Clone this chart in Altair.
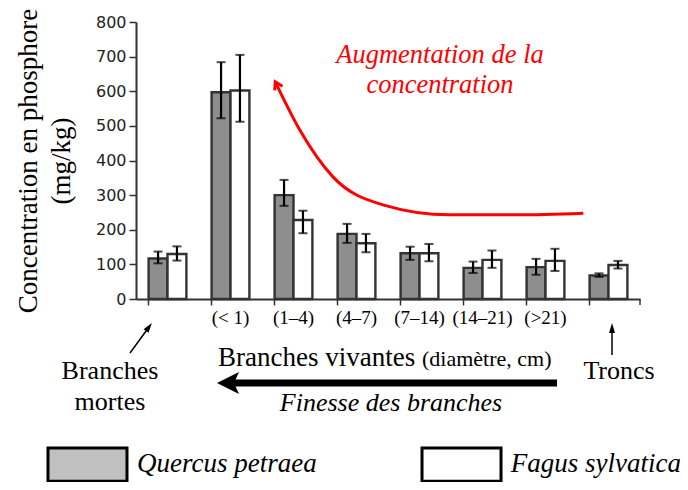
import altair as alt
import pandas as pd

# ---------------- data ----------------
categories = ["Branches mortes", "(< 1)", "(1–4)", "(4–7)", "(7–14)", "(14–21)", "(>21)", "Troncs"]
species = ["Quercus petraea", "Fagus sylvatica"]
quercus_mean = [117, 597, 300, 188, 132, 90, 92, 68]
quercus_low = [103, 522, 269, 162, 113, 75, 70, 64]
quercus_high = [137, 684, 344, 217, 151, 108, 116, 74]
fagus_mean = [130, 602, 228, 161, 132, 113, 110, 98]
fagus_low = [111, 512, 190, 135, 109, 90, 81, 88]
fagus_high = [152, 705, 255, 188, 159, 140, 145, 110]
y_ticks = [0, 100, 200, 300, 400, 500, 600, 700, 800]

rows = []
for i, c in enumerate(categories):
    rows.append({"cat": c, "sp": species[0], "mean": quercus_mean[i], "lo": quercus_low[i], "hi": quercus_high[i]})
    rows.append({"cat": c, "sp": species[1], "mean": fagus_mean[i], "lo": fagus_low[i], "hi": fagus_high[i]})
df = pd.DataFrame(rows)

# ---------------- annotation geometry (category units, mg/kg) ----------------
curve_u = [2.21, 2.60, 3.13, 3.92, 4.98, 6.05, 7.10]
curve_v = [627, 488, 352, 272, 243, 243, 248]

W, H = 504, 277
serif = "Liberation Serif"

xband = alt.Scale(domain=categories, paddingInner=0.4, paddingOuter=0.2)
yscale = alt.Scale(domain=[0, 800], nice=False)
xoff = alt.XOffset("sp:N", sort=species, scale=alt.Scale(domain=species, paddingInner=0, paddingOuter=0))

yaxis = alt.Axis(values=y_ticks, grid=False, title=["Concentration en phosphore", "(mg/kg)"],
                 titleFont=serif, titleFontSize=27, titleFontWeight="normal", titleColor="black",
                 titlePadding=20, titleLineHeight=33,
                 labelFont="DejaVu Sans", labelFontSize=16, labelColor="#222222", labelPadding=3,
                 tickSize=7, tickWidth=1.5, tickColor="#333", domainColor="#333", domainWidth=2)

bars = alt.Chart(df).mark_bar(stroke="#333333", strokeWidth=2.4).encode(
    x=alt.X("cat:N", sort=categories, scale=xband, title=None,
            axis=alt.Axis(bandPosition=0, labelAngle=0,
                          labelExpr="datum.value == 'Branches mortes' || datum.value == 'Troncs' ? '' : datum.value",
                          labelFont=serif, labelFontSize=19, labelColor="black", labelPadding=3,
                          tickSize=6, tickWidth=1.5, tickColor="#333", domainColor="#333", domainWidth=2,
                          grid=False)),
    xOffset=xoff,
    y=alt.Y("mean:Q", scale=yscale, axis=yaxis),
    fill=alt.Fill("sp:N", scale=alt.Scale(domain=species, range=["#8e8e8e", "#ffffff"]), legend=None),
)

xb_noaxis = alt.X("cat:N", sort=categories, scale=xband, axis=None)

err = alt.Chart(df).mark_rule(color="black", strokeWidth=2.2).encode(
    x=xb_noaxis, xOffset=xoff,
    y=alt.Y("lo:Q", scale=yscale, axis=yaxis), y2="hi:Q")
cap_hi = alt.Chart(df).mark_tick(color="black", thickness=2, size=9).encode(
    x=xb_noaxis, xOffset=xoff, y=alt.Y("hi:Q", scale=yscale, axis=yaxis))
cap_lo = alt.Chart(df).mark_tick(color="black", thickness=2, size=9).encode(
    x=xb_noaxis, xOffset=xoff, y=alt.Y("lo:Q", scale=yscale, axis=yaxis))

end_tick = alt.Chart(pd.DataFrame({"a": [0]})).mark_rule(color="#333", strokeWidth=1.5).encode(
    x=alt.value(W), y=alt.value(H), y2=alt.value(H + 6))

def AX(f="u"):
    return alt.X(f"{f}:Q", scale=alt.Scale(domain=[0, 8], nice=False, zero=False), axis=None)

def AY(f="v"):
    return alt.Y(f"{f}:Q", scale=yscale, axis=yaxis)

def text_layer(items, **kw):
    d = pd.DataFrame(items, columns=["t", "u", "v"])
    return alt.Chart(d).mark_text(baseline="alphabetic", **kw).encode(x=AX(), y=AY(), text="t:N")

curve = alt.Chart(pd.DataFrame({"u": curve_u, "v": curve_v})).mark_line(
    color="#ff0000", strokeWidth=3, interpolate="monotone").encode(x=AX(), y=AY())
red_head = alt.Chart(pd.DataFrame({"u": [curve_u[0]], "v": [curve_v[0]]})).mark_point(
    shape="M-0.55,0.9L0,0L0.55,0.9", filled=False, color="#ff0000", strokeWidth=3, size=256,
    angle=332, opacity=1).encode(x=AX(), y=AY())
red_text = text_layer([["Augmentation de la", 4.825, 682], ["concentration", 4.825, 595]],
                      align="center", font=serif, fontSize=26.5, fontStyle="italic", color="#ff0000")

# thin black arrows
arrows = pd.DataFrame({"u": [-0.095, 7.556], "v": [-156, -162], "u2": [0.206, 7.556], "v2": [-81, -84]})
arrow_lines = alt.Chart(arrows).mark_rule(color="black", strokeWidth=1.5).encode(
    x=AX(), x2="u2:Q", y=AY(), y2="v2:Q")
tri = "M0,-1L0.6,1L-0.6,1Z"
head1 = alt.Chart(pd.DataFrame({"u": [0.206], "v": [-81]})).mark_point(
    shape=tri, filled=True, color="black", size=100, angle=36, opacity=1).encode(x=AX(), y=AY())
head2 = alt.Chart(pd.DataFrame({"u": [7.556], "v": [-84]})).mark_point(
    shape=tri, filled=True, color="black", size=100, opacity=1).encode(x=AX(), y=AY())

labels_c = text_layer([["Branches", -0.413, -231], ["mortes", -0.413, -321], ["Troncs", 7.667, -231]],
                      align="center", font=serif, fontSize=26, color="black")
label_bv = text_layer([["Branches vivantes", 1.302, -194]], align="left", font=serif, fontSize=27, color="black")
label_diam = text_layer([["(diamètre, cm)", 4.54, -194]], align="left", font=serif, fontSize=22, color="black")
label_fin = text_layer([["Finesse des branches", 4.048, -323]], align="center", font=serif, fontSize=26,
                       fontStyle="italic", color="black")

big_shaft = alt.Chart(pd.DataFrame({"u": [1.49], "u2": [6.683], "v": [-242.6]})).mark_rule(
    color="black", strokeWidth=7, strokeCap="butt").encode(x=AX(), x2="u2:Q", y=AY())
big_head = alt.Chart(pd.DataFrame({"u": [1.46], "v": [-242.6]})).mark_point(
    shape="M-1,0L1,-1L0.55,0L1,1Z", filled=True, color="black", size=484, opacity=1).encode(x=AX(), y=AY())

# legend (drawn)
leg = pd.DataFrame({"sp": species, "u": [-1.397, 4.540], "u2": [-0.143, 5.794],
                    "v": [-430, -430], "v2": [-526, -526]})
leg_boxes = alt.Chart(leg).mark_rect(stroke="black", strokeWidth=3).encode(
    x=AX(), x2="u2:Q", y=AY(), y2="v2:Q",
    fill=alt.Fill("sp:N", scale=alt.Scale(domain=species, range=["#c0c0c0", "#ffffff"]), legend=None))
leg_text = text_layer([[species[0], 0.016, -499], [species[1], 5.95, -499]],
                      align="left", font=serif, fontSize=27, fontStyle="italic", color="black")

chart = alt.layer(
    bars, err, cap_hi, cap_lo, end_tick,
    curve, red_head, red_text,
    arrow_lines, head1, head2, labels_c, label_bv, label_diam, label_fin,
    big_shaft, big_head, leg_boxes, leg_text,
).resolve_scale(x="independent", fill="independent").properties(
    width=W, height=H,
    autosize=alt.AutoSizeParams(type="none"),
    padding={"left": 128, "top": 14, "right": 40, "bottom": 183},
    background="white",
).configure_view(stroke=None)

chart.save("out.html", embed_options={"renderer": "svg", "actions": False})
